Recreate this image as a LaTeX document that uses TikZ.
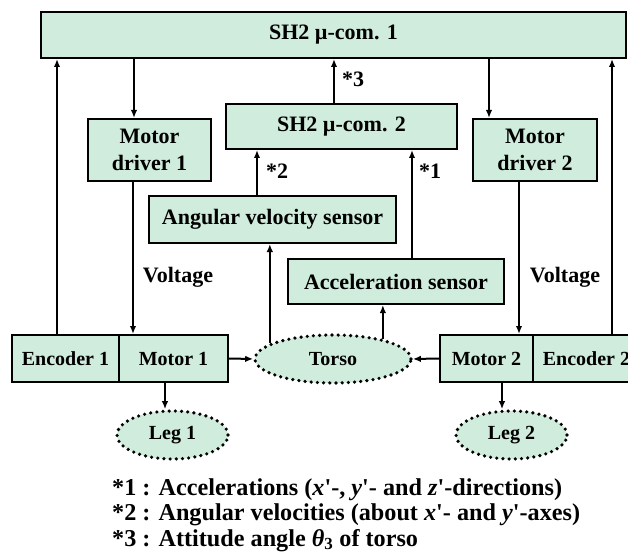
\documentclass[tikz,border=0pt]{standalone}
\usepackage{fontspec}
\setmainfont{Liberation Serif}
\usetikzlibrary{shapes.geometric,arrows.meta}
\definecolor{mint}{RGB}{207,236,220}

\begin{document}
\begin{tikzpicture}[x=1pt,y=-1pt]
   \tikzstyle{block}=[draw, line width=2pt, fill=mint, inner sep=0pt, align=center, font=\fontsize{22}{27}\selectfont\bfseries]
   \tikzstyle{small}=[block, font=\fontsize{20}{24}\selectfont\bfseries, minimum height=47pt]
   \tikzstyle{body}=[ellipse, fill=mint, inner sep=0pt, line width=3.6pt, line cap=round, dash pattern=on 0pt off 6.2pt, font=\fontsize{20}{24}\selectfont\bfseries]
   \tikzstyle{tag}=[inner sep=0pt, font=\fontsize{22}{27}\selectfont\bfseries]
   \tikzstyle{sig}=[line width=2pt, -{Latex[length=8pt,width=6.5pt]}]
   \useasboundingbox (0,0) rectangle (628,556);

% controllers and drivers
\node[block, minimum width=585pt, minimum height=46pt] (com1) at (333.5,35) {SH2 µ-com. 1};
\node[block, minimum width=231pt, minimum height=45pt] (com2) at (341.5,126.5) {SH2 µ-com. 2};
\node[block, minimum width=123pt, minimum height=62pt] (drv1) at (149.5,150) {Motor\\driver 1};
\node[block, minimum width=124pt, minimum height=62pt] (drv2) at (535,150) {Motor\\driver 2};

% sensors
\node[block, minimum width=247pt, minimum height=47pt] (gyro) at (272.5,219.5) {Angular velocity sensor};
\node[block, minimum width=216pt, minimum height=45pt] (accel) at (396,281.5) {Acceleration sensor};

% bottom row
\node[small, minimum width=107pt] (enc1) at (65.5,358.5) {Encoder 1};
\node[small, minimum width=109pt] (mot1) at (173.5,358.5) {Motor 1};
\node[small, minimum width=93pt] (mot2) at (486.5,358.5) {Motor 2};
\node[small, minimum width=107pt] (enc2) at (586.5,358.5) {Encoder 2};
\node[body, minimum width=156pt, minimum height=48pt] (torso) at (333,359) {Torso};
\node[body, minimum width=111pt, minimum height=48pt] (leg1) at (172.5,435) {Leg 1};
\node[body, minimum width=111pt, minimum height=48pt] (leg2) at (511.5,435) {Leg 2};
\draw[body, fill=none] (torso.center) ellipse [x radius=78pt, y radius=24pt];
\draw[body, fill=none] (leg1.center) ellipse [x radius=55.5pt, y radius=24pt];
\draw[body, fill=none] (leg2.center) ellipse [x radius=55.5pt, y radius=24pt];

% labels
\node[tag] (volt1) at (178,277) {Voltage};
\node[tag] (volt2) at (565,277) {Voltage};
\node[tag, anchor=west] (n3) at (342,79) {*3};
\node[tag, anchor=west] (n2) at (266,171) {*2};
\node[tag, anchor=west] (n1) at (419,171) {*1};

% signals
\draw[sig] ([xshift=-8.5pt]enc1.north) -- ([xshift=-8.5pt]enc1.north |- com1.south);
\draw[sig] ([xshift=25.5pt]enc2.north) -- ([xshift=25.5pt]enc2.north |- com1.south);
\draw[sig] ([xshift=-15.5pt]drv1.north |- com1.south) -- ([xshift=-15.5pt]drv1.north);
\draw[sig] ([xshift=-46pt]drv2.north |- com1.south) -- ([xshift=-46pt]drv2.north);
\draw[sig] ([xshift=-16.5pt]drv1.south) -- ([xshift=-16.5pt]drv1.south |- mot1.north);
\draw[sig] ([xshift=-16pt]drv2.south) -- ([xshift=-16pt]drv2.south |- mot2.north);
\draw[sig] ([xshift=-7.5pt]com2.north) -- ([xshift=-7.5pt]com2.north |- com1.south);
\draw[sig] ([xshift=-15.5pt]gyro.north) -- ([xshift=-15.5pt]gyro.north |- com2.south);
\draw[sig] ([xshift=16pt]accel.north) -- ([xshift=16pt]accel.north |- com2.south);
\draw[sig] (torso.166) -- (torso.166 |- gyro.south);
\draw[sig] (torso.22) -- (torso.22 |- accel.south);
\draw[sig] (mot1.east) -- (torso.west);
\draw[sig] (mot2.west) -- (torso.east);
\draw[sig] ([xshift=-8.5pt]mot1.south) -- ([xshift=-8.5pt]mot1.south |- leg1.north);
\draw[sig] ([xshift=15.5pt]mot2.south) -- ([xshift=15.5pt]mot2.south |- leg2.north);

% notes
\node[tag, anchor=west, align=left, font=\fontsize{24.2}{25.5}\selectfont\bfseries] (notes) at (112,515)
   {*1 : Accelerations (\textit{x}\textquotesingle-, \textit{y}\textquotesingle- and \textit{z}\textquotesingle-directions)\\
    *2 : Angular velocities (about \textit{x}\textquotesingle- and \textit{y}\textquotesingle-axes)\\
    *3 : Attitude angle \textit{θ}\textsubscript{3} of torso};

\end{tikzpicture}
\end{document}
